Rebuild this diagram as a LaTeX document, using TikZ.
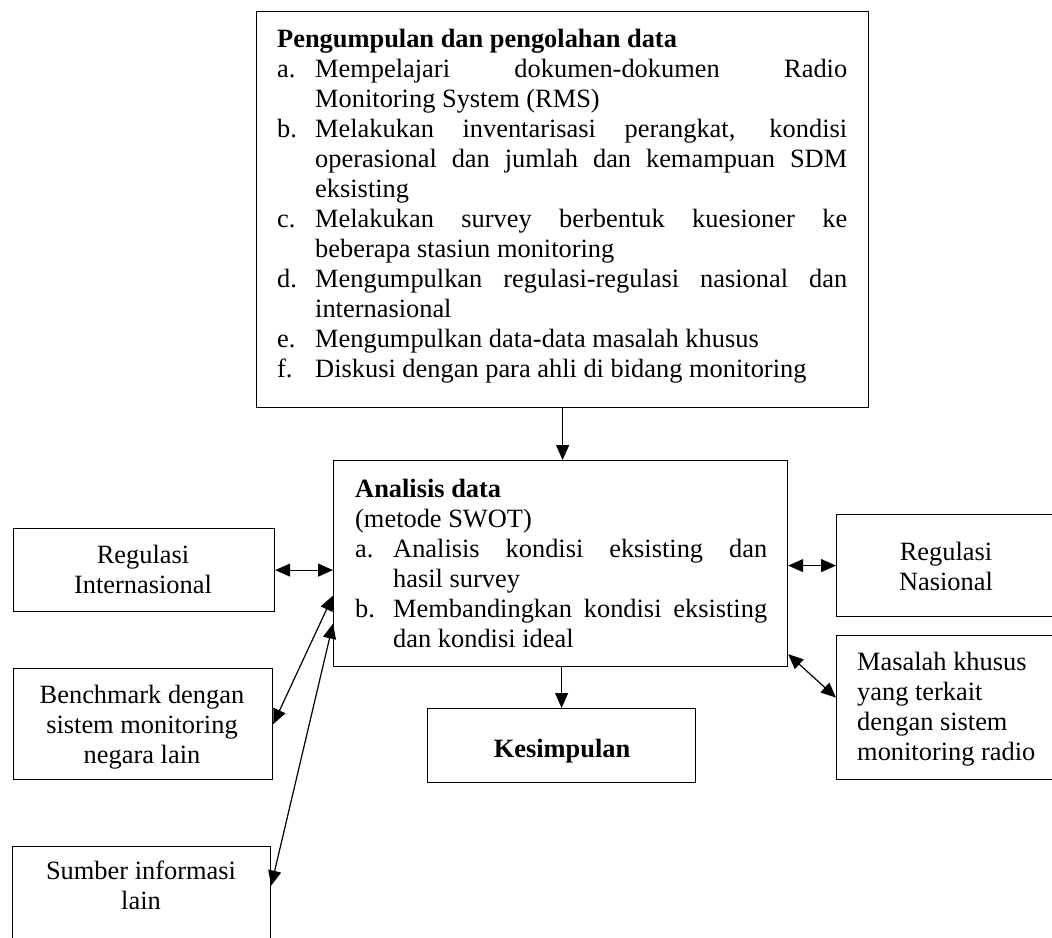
\documentclass[tikz,border=0pt]{standalone}
\usepackage{fontspec}
\setmainfont{Liberation Serif}
\usetikzlibrary{arrows.meta,calc}

% body text: Times-metric serif, single spacing
\newcommand\bodyfont{\fontsize{26.4}{30}\selectfont}
% a justified line stretched to a given width
\newcommand\fillline[2]{\makebox[#1][s]{#2}}
% list label with hanging indent
\newcommand\lbl[1]{\makebox[38pt][l]{#1}}
\newcommand\cont{\hspace*{38pt}}

\tikzset{
  frame/.style={draw=black, line width=1.2pt, inner sep=0pt, anchor=north west},
  txt/.style={inner sep=0pt, anchor=base west},
  ctxt/.style={inner sep=0pt, anchor=base},
  tip/.tip={Triangle[length=15pt,width=13pt]},
  conn/.style={line width=1.2pt, -tip},
  conn2/.style={line width=1.2pt, tip-tip},
}

\begin{document}
\begin{tikzpicture}[x=1pt,y=-1pt]
\useasboundingbox (0,0) rectangle (1052,937);
\clip (0,0) rectangle (1052,937);

% ---- boxes ----
\node[frame, minimum width=612pt, minimum height=396pt] (collect) at (256,11) {};
\node[frame, minimum width=454pt, minimum height=206pt] (analysis) at (333,460) {};
\node[frame, minimum width=268pt, minimum height=74pt]  (kes)      at (427,708) {};
\node[frame, minimum width=261pt, minimum height=83pt]  (regint)   at (13,528) {};
\node[frame, minimum width=259pt, minimum height=111pt] (bench)    at (13,668) {};
\node[frame, minimum width=258pt, minimum height=110pt] (sumber)   at (12,846) {};
\node[frame, minimum width=220pt, minimum height=102pt] (regnas)   at (836,514) {};
\node[frame, minimum width=220pt, minimum height=144pt] (masalah)  at (836,635) {};

% ---- texts ----
\node[txt] (collecttext) at (277,47) {\parbox[t]{580pt}{\bodyfont
  \textbf{Pengumpulan dan pengolahan data}\par
  \lbl{a.}\fillline{532pt}{Mempelajari dokumen-dokumen Radio}\par
  \cont Monitoring System (RMS)\par
  \lbl{b.}\fillline{532pt}{Melakukan inventarisasi perangkat, kondisi}\par
  \cont\fillline{532pt}{operasional dan jumlah dan kemampuan SDM}\par
  \cont eksisting\par
  \lbl{c.}\fillline{532pt}{Melakukan survey berbentuk kuesioner ke}\par
  \cont beberapa stasiun monitoring\par
  \lbl{d.}\fillline{532pt}{Mengumpulkan regulasi-regulasi nasional dan}\par
  \cont internasional\par
  \lbl{e.}Mengumpulkan data-data masalah khusus\par
  \lbl{f.}Diskusi dengan para ahli di bidang monitoring}};

\node[txt] (analysistext) at (355,497) {\parbox[t]{420pt}{\bodyfont
  \textbf{Analisis data}\par
  (metode SWOT)\par
  \lbl{a.}\fillline{374pt}{Analisis kondisi eksisting dan}\par
  \cont hasil survey\par
  \lbl{b.}\fillline{374pt}{Membandingkan kondisi eksisting}\par
  \cont dan kondisi ideal}};

\node[ctxt] (kestext) at (562,757) {\bodyfont\textbf{Kesimpulan}};

\node[ctxt] (reginttext) at (143,563) {\parbox[t]{250pt}{\centering\bodyfont
  Regulasi\par Internasional}};
\node[ctxt] (benchtext) at (142,703) {\parbox[t]{250pt}{\centering\bodyfont
  Benchmark dengan\par sistem monitoring\par negara lain}};
\node[ctxt] (sumbertext) at (141,879) {\parbox[t]{250pt}{\centering\bodyfont
  Sumber informasi\par lain}};
\node[ctxt] (regnastext) at (946,560) {\parbox[t]{200pt}{\centering\bodyfont
  Regulasi\par Nasional}};
\node[txt] (masalahtext) at (857,670) {\parbox[t]{200pt}{\raggedright\bodyfont
  Masalah khusus\par yang terkait\par dengan sistem\par monitoring radio}};

% ---- connectors ----
\draw[conn] (collect.south) -- (collect.south |- analysis.north);
\draw[conn] (kes.north |- analysis.south) -- (kes.north);
\draw[conn2] (regint.east) -- (regint.east -| analysis.west);
\draw[conn2] (regnas.west -| analysis.east) -- (regnas.west);
\draw[conn2] ([yshift=13pt]analysis.south east) -- ([yshift=10pt]masalah.west);
\draw[conn2] ([yshift=-32pt]analysis.west) -- (bench.east);
\draw[conn2] ([yshift=-60pt]analysis.west) -- ([yshift=16pt]sumber.east);
\end{tikzpicture}
\end{document}
